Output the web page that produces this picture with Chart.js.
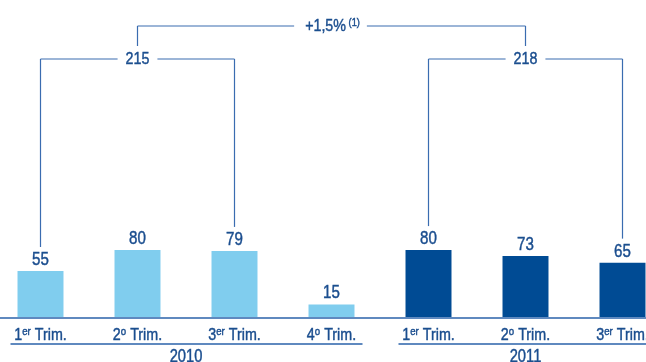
<!DOCTYPE html>
<html>
<head>
<meta charset="utf-8">
<script src="https://cdn.jsdelivr.net/npm/chart.js@4"></script>
<style>
  html, body { margin: 0; padding: 0; background: #fff; overflow: hidden; }
  #wrap { position: absolute; left: -8px; top: 0; width: 679px; height: 362px; }
</style>
</head>
<body>
<div id="wrap"><canvas id="chart"></canvas></div>
<script>
// data
const tickNums = ['1', '2', '3', '4', '1', '2', '3'];
const tickSups = ['er', 'o', 'er', 'o', 'er', 'o', 'er'];
const values = [55, 80, 79, 15, 80, 73, 65];
const years = ['2010', '2011'];
const yearFirst = [0, 4];
const yearLast = [3, 6];
const totals = [215, 218];
const totalLeft = [0, 4];
const totalMid = [1, 5];
const totalRight = [2, 6];
const growthText = '+1,5%';
const growthNote = '(1)';

const LIGHT = '#80cdee';
const DARK = '#004b94';
const TEXT = '#1b4e8f';
const LINE = '#3a6cb0';
const FONT = '"Liberation Sans", Arial, sans-serif';
const SX = 0.84; // the original type is condensed

const barColors = values.map((v, i) => (i >= yearFirst[1] ? DARK : LIGHT));

function textWidth(ctx, s, font) {
  ctx.font = font;
  return ctx.measureText(s).width * SX;
}

// draws left-aligned condensed text, a touch heavier than regular
function put(ctx, s, x, base, font) {
  ctx.save();
  ctx.font = font;
  ctx.textAlign = 'left';
  ctx.translate(x, base);
  ctx.scale(SX, 1);
  ctx.fillText(s, 0, 0);
  ctx.strokeStyle = TEXT;
  ctx.lineWidth = 0.45;
  ctx.strokeText(s, 0, 0);
  ctx.restore();
}

// centred text with a raised part in the middle
function supText(ctx, cx, base, main, sup, rest, font, supFont, rise) {
  const w1 = textWidth(ctx, main, font);
  const w2 = textWidth(ctx, sup, supFont);
  const w3 = textWidth(ctx, rest, font);
  let x = cx - (w1 + w2 + w3) / 2;
  put(ctx, main, x, base, font);
  x += w1;
  put(ctx, sup, x, base - rise, supFont);
  x += w2;
  put(ctx, rest, x, base, font);
  return w1 + w2 + w3;
}

function centred(ctx, s, cx, base, font) {
  const w = textWidth(ctx, s, font);
  put(ctx, s, cx - w / 2, base, font);
  return w;
}

function line(ctx, x1, y1, x2, y2) {
  ctx.beginPath();
  ctx.moveTo(x1, y1);
  ctx.lineTo(x2, y2);
  ctx.stroke();
}

const overlay = {
  id: 'overlay',
  afterDatasetsDraw(chart) {
    const ctx = chart.ctx;
    const xs = chart.scales.x;
    const ys = chart.scales.y;
    const area = chart.chartArea;
    const cx = i => xs.getPixelForValue(i);
    const top = i => ys.getPixelForValue(values[i]);
    ctx.save();
    ctx.fillStyle = TEXT;
    ctx.textBaseline = 'alphabetic';

    // axis line
    ctx.strokeStyle = '#2a62aa';
    ctx.lineWidth = 1.5;
    line(ctx, area.left, area.bottom + 1, area.right, area.bottom + 1);

    // value labels
    values.forEach((v, i) => centred(ctx, String(v), cx(i), top(i) - 6, '18px ' + FONT));

    // category labels
    tickNums.forEach((n, i) => {
      supText(ctx, cx(i), area.bottom + 23, n, tickSups[i], ' Trim.',
        '17px ' + FONT, '11.5px ' + FONT, 5);
    });

    // year lines and labels
    years.forEach((y, k) => {
      const a = cx(yearFirst[k]) - 30;
      const b = cx(yearLast[k]) + 31;
      ctx.strokeStyle = '#2a62aa';
      ctx.lineWidth = 1.5;
      line(ctx, a, area.bottom + 27, b, area.bottom + 27);
      centred(ctx, y, (cx(yearFirst[k]) + cx(yearLast[k])) / 2, area.bottom + 44.5, '17.5px ' + FONT);
    });

    // brackets for the yearly totals
    const yT = 59;
    totals.forEach((t, k) => {
      const l = cx(totalLeft[k]);
      const m = cx(totalMid[k]);
      const r = cx(totalRight[k]);
      const w = centred(ctx, String(t), m, yT + 5, '17px ' + FONT);
      ctx.strokeStyle = LINE;
      ctx.lineWidth = 1.2;
      line(ctx, l, top(totalLeft[k]) - 24, l, yT);
      line(ctx, l, yT, m - w / 2 - 8, yT);
      line(ctx, m + w / 2 + 8, yT, r, yT);
      line(ctx, r, yT, r, top(totalRight[k]) - 24);
    });

    // bracket for the growth between years
    const yG = 26;
    const gl = cx(totalMid[0]);
    const gr = cx(totalMid[1]);
    const gm = (gl + gr) / 2;
    const gw = supText(ctx, gm + 1, yG + 4.5, growthText, ' ' + growthNote, '',
      '17px ' + FONT, '11px ' + FONT, 5);
    ctx.strokeStyle = LINE;
    ctx.lineWidth = 1.2;
    line(ctx, gl, 46, gl, yG);
    line(ctx, gl, yG, gm - gw / 2 - 10, yG);
    line(ctx, gm + gw / 2 + 8, yG, gr, yG);
    line(ctx, gr, yG, gr, 46);

    ctx.restore();
  }
};

new Chart(document.getElementById('chart'), {
  type: 'bar',
  data: {
    labels: tickNums.map((n, i) => n + tickSups[i] + ' Trim.'),
    datasets: [{
      data: values,
      backgroundColor: barColors,
      borderWidth: 0,
      categoryPercentage: 1,
      barPercentage: 0.474,
    }],
  },
  options: {
    responsive: true,
    maintainAspectRatio: false,
    animation: false,
    layout: { padding: { top: 0, bottom: 45, left: 0, right: 0 } },
    plugins: { legend: { display: false }, tooltip: { enabled: false } },
    scales: {
      x: { display: false },
      y: { display: false, min: 0, max: 379 },
    },
  },
  plugins: [overlay],
});
</script>
</body>
</html>
